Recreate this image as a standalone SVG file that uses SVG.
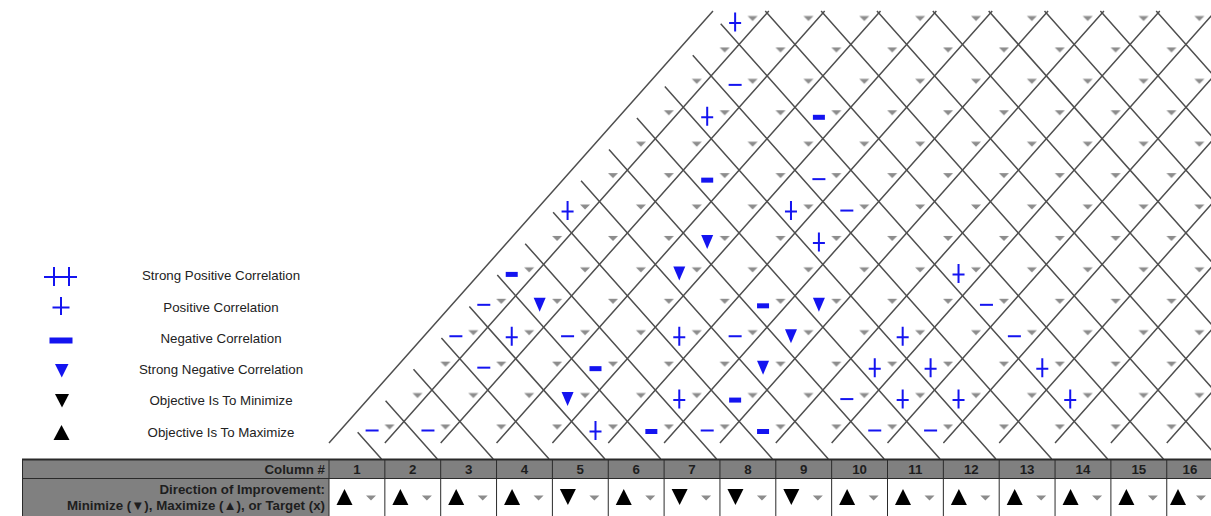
<svg xmlns="http://www.w3.org/2000/svg" width="1211" height="516" viewBox="0 0 1211 516">
<defs>
<style>
.ln{stroke:#4f4f4f;stroke-width:1.5;fill:none}
.b{fill:#1414f0}
.bs{stroke:#1414f0;stroke-width:2;fill:none}
.lg{font-family:"Liberation Sans",Arial,sans-serif;font-size:13.3px;fill:#222;text-anchor:middle}
.th{font-family:"Liberation Sans",Arial,sans-serif;font-size:13.3px;font-weight:bold;fill:#1e1e1e}
.num{text-anchor:middle}
.end{text-anchor:end}
.tb{stroke:#2a2a2a;stroke-width:1;fill:none}
</style>
<polygon id="dd" points="-5,-2 5,-2 0,3" fill="#8c8c8c"/>
<path id="pl" d="M-6,1H6M0,-9.5V9.5" class="bs"/>
<path id="mn" d="M-6.5,0H6.5" class="bs"/>
<rect id="mb" x="-6" y="-2.5" width="12" height="5" class="b"/>
<polygon id="tv" points="-6,-7 6,-7 0,7" class="b"/>
<polygon id="up" points="-8,8 8,8 0,-8" fill="#000"/>
<polygon id="dn" points="-8,-8 8,-8 0,8" fill="#000"/>
<pattern id="ddp" patternUnits="userSpaceOnUse" x="375.6" y="416.5" width="55.85" height="62.84">
<use href="#dd" x="14" y="10"/>
<use href="#dd" x="41.925" y="41.42"/>
</pattern>
</defs>
<rect width="1211" height="516" fill="#fff"/>

<g id="roof-grid" class="ln">
<path d="M329,443L712.98,11M384.85,443L768.83,11M440.7,443L824.68,11M496.55,443L880.53,11M552.4,443L936.38,11M608.25,443L992.23,11M664.1,443L1048.08,11M719.95,443L1103.93,11M775.8,443L1159.78,11M831.65,443L1215.63,11M887.5,443L1271.48,11M943.35,443L1327.33,11M999.2,443L1383.18,11M1055.05,443L1439.03,11M1110.9,443L1494.88,11M1166.75,443L1550.73,11"/>
<path d="M357.65,432.2L381.48,459M385.58,400.78L437.34,459M413.5,369.36L493.19,459M441.43,337.94L549.05,459M469.35,306.52L604.9,459M497.28,275.1L660.76,459M525.2,243.68L716.61,459M553.13,212.26L772.47,459M581.05,180.84L828.31,459M608.98,149.42L884.17,459M636.9,118L940.02,459M664.83,86.58L995.88,459M692.75,55.16L1051.73,459M720.7,23.74L1107.61,459"/>
<path d="M765.27,11L1163.45,459M821.12,11L1219.3,459M876.97,11L1275.15,459M932.82,11L1331,459M988.67,11L1386.85,459M1044.52,11L1442.7,459M1100.37,11L1498.55,459M1156.22,11L1554.4,459"/>
</g>

<g id="roof-dropdowns">
<polygon points="331.7,440 718.3,5 1211,5 1211,440" fill="url(#ddp)"/>
</g>

<g id="roof-correlations">
<use href="#mn" x="372.1" y="430.5"/>
<use href="#mn" x="427.95" y="430.5"/>
<use href="#mn" x="707.2" y="430.5"/>
<use href="#mn" x="874.75" y="430.5"/>
<use href="#mn" x="930.6" y="430.5"/>
<use href="#mn" x="846.83" y="399.08"/>
<use href="#mn" x="483.8" y="367.66"/>
<use href="#mn" x="455.88" y="336.24"/>
<use href="#mn" x="567.58" y="336.24"/>
<use href="#mn" x="735.13" y="336.24"/>
<use href="#mn" x="1014.38" y="336.24"/>
<use href="#mn" x="483.8" y="304.82"/>
<use href="#mn" x="986.45" y="304.82"/>
<use href="#mn" x="846.83" y="210.56"/>
<use href="#mn" x="818.9" y="179.14"/>
<use href="#mn" x="735.13" y="84.88"/>
<use href="#mb" x="651.35" y="431.5"/>
<use href="#mb" x="763.05" y="431.5"/>
<use href="#mb" x="735.13" y="400.08"/>
<use href="#mb" x="595.5" y="368.66"/>
<use href="#mb" x="763.05" y="305.82"/>
<use href="#mb" x="511.73" y="274.4"/>
<use href="#mb" x="707.2" y="180.14"/>
<use href="#mb" x="818.9" y="117.3"/>
<use href="#pl" x="595.5" y="430.5"/>
<use href="#pl" x="679.28" y="399.08"/>
<use href="#pl" x="902.68" y="399.08"/>
<use href="#pl" x="958.53" y="399.08"/>
<use href="#pl" x="1070.23" y="399.08"/>
<use href="#pl" x="874.75" y="367.66"/>
<use href="#pl" x="930.6" y="367.66"/>
<use href="#pl" x="1042.3" y="367.66"/>
<use href="#pl" x="511.73" y="336.24"/>
<use href="#pl" x="679.28" y="336.24"/>
<use href="#pl" x="902.68" y="336.24"/>
<use href="#pl" x="958.53" y="273.4"/>
<use href="#pl" x="818.9" y="241.98"/>
<use href="#pl" x="567.58" y="210.56"/>
<use href="#pl" x="790.98" y="210.56"/>
<use href="#pl" x="707.2" y="116.3"/>
<use href="#pl" x="735.13" y="22.04"/>
<use href="#tv" x="567.58" y="399.08"/>
<use href="#tv" x="763.05" y="367.66"/>
<use href="#tv" x="790.98" y="336.24"/>
<use href="#tv" x="539.65" y="304.82"/>
<use href="#tv" x="818.9" y="304.82"/>
<use href="#tv" x="679.28" y="273.4"/>
<use href="#tv" x="707.2" y="241.98"/>
</g>

<g id="legend-strong-positive">
<path d="M44,277H77M54,267V286M69,267V286" class="bs"/>
<text class="lg" x="221" y="279.5">Strong Positive Correlation</text>
</g>
<g id="legend-positive">
<path d="M52.5,307.5H69.5M61,297V315" class="bs"/>
<text class="lg" x="221" y="311.5">Positive Correlation</text>
</g>
<g id="legend-negative">
<rect x="49.5" y="337.5" width="23" height="6" class="b"/>
<text class="lg" x="221" y="342.5">Negative Correlation</text>
</g>
<g id="legend-strong-negative">
<polygon points="55,364 68.5,364 61.75,377.5" class="b"/>
<text class="lg" x="221" y="373.5">Strong Negative Correlation</text>
</g>
<g id="legend-minimize">
<polygon points="55,394 69,394 62,407.5" fill="#000"/>
<text class="lg" x="221" y="404.5">Objective Is To Minimize</text>
</g>
<g id="legend-maximize">
<polygon points="53.5,440 69.5,440 61.5,425" fill="#000"/>
<text class="lg" x="221" y="436.5">Objective Is To Maximize</text>
</g>

<g id="table">
<rect x="22" y="459" width="1190" height="19" fill="#808080"/>
<rect x="22" y="478" width="307" height="40" fill="#808080"/>
<path class="tb" d="M22.5,459V516M329,459V516M384.85,459V516M440.7,459V516M496.55,459V516M552.4,459V516M608.25,459V516M664.1,459V516M719.95,459V516M775.8,459V516M831.65,459V516M887.5,459V516M943.35,459V516M999.2,459V516M1055.05,459V516M1110.9,459V516M1166.75,459V516M22,478.5H1211"/>
<path d="M22,459.5H1211" stroke="#2a2a2a" stroke-width="2"/>
<text class="th end" x="325" y="473.5">Column #</text>
<text class="th end" x="325" y="494">Direction of Improvement:</text>
<text class="th end" x="325" y="510">Minimize (▼), Maximize (▲), or Target (x)</text>
<g class="th num">
<text x="356.9" y="473.5">1</text><text x="412.8" y="473.5">2</text><text x="468.6" y="473.5">3</text><text x="524.5" y="473.5">4</text><text x="580.3" y="473.5">5</text><text x="636.2" y="473.5">6</text><text x="692" y="473.5">7</text><text x="747.9" y="473.5">8</text><text x="803.7" y="473.5">9</text><text x="859.6" y="473.5">10</text><text x="915.4" y="473.5">11</text><text x="971.3" y="473.5">12</text><text x="1027.1" y="473.5">13</text><text x="1083" y="473.5">14</text><text x="1138.8" y="473.5">15</text><text x="1190" y="473.5">16</text>
</g>
<use href="#up" x="344.5" y="497"/><use href="#dd" x="371" y="497.5"/>
<use href="#up" x="400.35" y="497"/><use href="#dd" x="426.85" y="497.5"/>
<use href="#up" x="456.2" y="497"/><use href="#dd" x="482.7" y="497.5"/>
<use href="#up" x="512.05" y="497"/><use href="#dd" x="538.55" y="497.5"/>
<use href="#dn" x="567.9" y="497"/><use href="#dd" x="594.4" y="497.5"/>
<use href="#up" x="623.75" y="497"/><use href="#dd" x="650.25" y="497.5"/>
<use href="#dn" x="679.6" y="497"/><use href="#dd" x="706.1" y="497.5"/>
<use href="#dn" x="735.45" y="497"/><use href="#dd" x="761.95" y="497.5"/>
<use href="#dn" x="791.3" y="497"/><use href="#dd" x="817.8" y="497.5"/>
<use href="#up" x="847.15" y="497"/><use href="#dd" x="873.65" y="497.5"/>
<use href="#up" x="903" y="497"/><use href="#dd" x="929.5" y="497.5"/>
<use href="#up" x="958.85" y="497"/><use href="#dd" x="985.35" y="497.5"/>
<use href="#up" x="1014.7" y="497"/><use href="#dd" x="1041.2" y="497.5"/>
<use href="#up" x="1070.55" y="497"/><use href="#dd" x="1097.05" y="497.5"/>
<use href="#up" x="1126.4" y="497"/><use href="#dd" x="1152.9" y="497.5"/>
<use href="#up" x="1178" y="497"/><use href="#dd" x="1201" y="497.5"/>
</g>
</svg>
